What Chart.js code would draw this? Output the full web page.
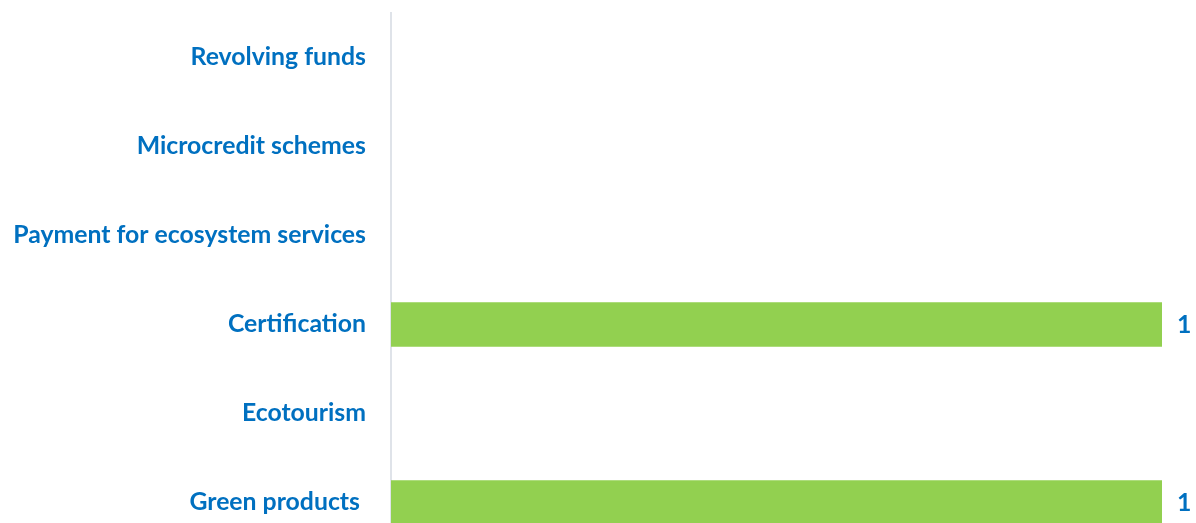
<!DOCTYPE html>
<html>
<head>
<meta charset="utf-8">
<script src="https://cdn.jsdelivr.net/npm/chart.js@4"></script>
<style>
  html, body { margin: 0; padding: 0; background: #fff; overflow: hidden; }
  #chart { display: block; }
</style>
</head>
<body>
<canvas id="chart" width="1196" height="547"></canvas>
<script>
'use strict';

const categories = [
    'Revolving funds',
    'Microcredit schemes',
    'Payment for ecosystem services',
    'Certification',
    'Ecotourism',
    'Green products '
];

const counts = [0, 0, 0, 1, 0, 1];

const labelBlue = '#0070C0';
const barGreen = '#92D050';
const fontSize = 24.8;

// draws the "1" next to each bar
const valueLabels = {
    id: 'valueLabels',
    afterDatasetsDraw(chart) {
        const ctx = chart.ctx;
        const meta = chart.getDatasetMeta(0);
        ctx.save();
        ctx.font = 'bold ' + fontSize + 'px Lato';
        ctx.fillStyle = labelBlue;
        ctx.textAlign = 'left';
        ctx.textBaseline = 'middle';
        meta.data.forEach((bar, i) => {
            if (!counts[i]) return;
            ctx.fillText(counts[i], bar.x + 15, bar.y + 1);
        });
        ctx.restore();
    }
};

const ctx = document.getElementById('chart').getContext('2d');
const chart = new Chart(ctx, {
    type: 'bar',
    data: {
        labels: categories,
        datasets: [{
            data: counts,
            backgroundColor: barGreen,
            borderWidth: 0,
            categoryPercentage: 1,
            barPercentage: 0.5
        }]
    },
    options: {
        indexAxis: 'y',
        responsive: false,
        animation: false,
        layout: { padding: { top: 13, right: 34, bottom: 0, left: 0 } },
        plugins: {
            legend: { display: false },
            tooltip: { enabled: false }
        },
        scales: {
            x: {
                display: false,
                min: 0,
                max: 1
            },
            y: {
                afterFit(scale) {
                    scale.width = 391;
                    scale.paddingTop = 0;
                    scale.paddingBottom = 0;
                },
                grid: { display: false, drawTicks: false },
                border: { display: true, color: '#DFE3E9', width: 2 },
                ticks: {
                    padding: 25,
                    color: labelBlue,
                    font: { family: 'Lato', weight: 'bold', size: fontSize }
                }
            }
        }
    },
    plugins: [valueLabels]
});
</script>
</body>
</html>
